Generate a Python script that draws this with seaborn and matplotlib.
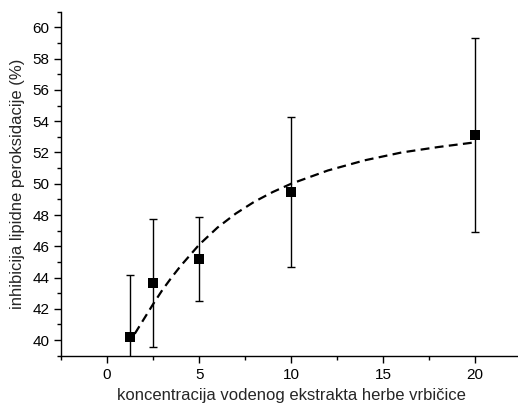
import numpy as np
import pandas as pd
import matplotlib
matplotlib.use("Agg")
import matplotlib.pyplot as plt
from matplotlib.ticker import MultipleLocator
import seaborn as sns

# -----------------------------------
# DATA
# -----------------------------------

conc = [1.25, 2.5, 5, 10, 20]
inhib = [40.2, 43.65, 45.2, 49.5, 53.1]
inhib_err = [3.95, 4.1, 2.7, 4.8, 6.2]

# fitted curve
fit_x = [1.5, 2, 2.5, 3, 3.5, 4, 5, 6, 7, 8, 9, 10, 12, 14, 16, 18, 20]
fit_y = [40.4, 41.35, 42.3, 43.2, 44.0, 44.75, 46.1, 47.2, 48.1, 48.85,
         49.47, 50.0, 50.85, 51.5, 52.0, 52.35, 52.65]

df = pd.DataFrame({"x": conc, "y": inhib, "err": inhib_err})
fit = pd.DataFrame({"x": fit_x, "y": fit_y})

# SET STYLE
sns.set_style("ticks")
plt.rcParams["font.family"] = ["Liberation Sans", "DejaVu Sans"]

fig = plt.figure(figsize=(5.18, 4.07), dpi=100)
ax = fig.add_axes([0.118, 0.126, 0.888, 0.845])

# error bars
ax.errorbar(
    df["x"], df["y"], yerr=df["err"],
    fmt="none", ecolor="black", elinewidth=1, capsize=3, capthick=1,
    zorder=2
)

# fit curve
sns.lineplot(
    x="x", y="y", data=fit, ax=ax,
    color="black", linewidth=1.6, linestyle=(0, (4, 2.4)),
    zorder=3
)

# points
sns.scatterplot(
    x="x", y="y", data=df, ax=ax,
    marker="s", s=45, color="black", edgecolor="black", linewidth=0,
    zorder=4
)

ax.set_xlim(-2.5, 22.5)
ax.set_ylim(39, 61)
ax.xaxis.set_major_locator(MultipleLocator(5))
ax.xaxis.set_minor_locator(MultipleLocator(2.5))
ax.yaxis.set_major_locator(MultipleLocator(2))
ax.yaxis.set_minor_locator(MultipleLocator(1))

ax.tick_params(which="major", length=5, width=1, labelsize=11, color="black", labelcolor="black")
ax.tick_params(which="minor", length=3, width=1, color="black")

for s in ["left", "bottom"]:
    ax.spines[s].set_linewidth(1)
    ax.spines[s].set_color("black")
sns.despine(ax=ax)

ax.set_xlabel("koncentracija vodenog ekstrakta herbe vrbičice", fontsize=12, labelpad=5)
ax.set_ylabel("inhibicija lipidne peroksidacije (%)", fontsize=12, labelpad=5)

fig.savefig("out.png", dpi=100)
